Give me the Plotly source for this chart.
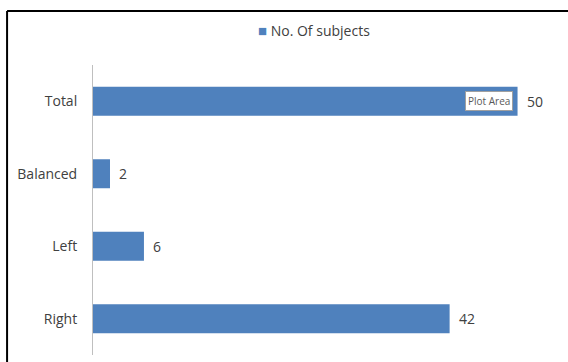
import plotly.graph_objects as go

categories = ["Right", "Left", "Balanced", "Total"]
values = [42, 6, 2, 50]
series_name = "No. Of subjects"
bar_color = "#4F81BD"

fig = go.Figure()
fig.add_trace(go.Bar(
    y=categories, x=values, orientation="h", name=series_name,
    marker=dict(color=bar_color, line=dict(width=0)),
    showlegend=False,
))

for c, v in zip(categories, values):
    fig.add_annotation(x=v, y=c, text=str(v), showarrow=False, xanchor="left",
                       xshift=7, font=dict(size=14, color="#404040"))

# legend drawn as a compact key
fig.add_annotation(xref="paper", yref="paper", x=0.473, y=1.12, xanchor="center",
                   yanchor="middle", showarrow=False,
                   text=f"<span style='color:{bar_color};font-size:15px'>■</span> {series_name}",
                   font=dict(size=14, color="#404040"))

fig.add_annotation(x=46.6, y="Total", text="Plot Area", showarrow=False,
                   font=dict(size=10, color="#595959"), bgcolor="white",
                   bordercolor="#a0a0a0", borderwidth=1, borderpad=2)

# frame: top and left edges only are visible in the cropped reference
fig.add_shape(type="line", xref="paper", yref="paper",
              x0=-0.184, x1=1.1, y0=1.186, y1=1.186,
              line=dict(color="black", width=2))
fig.add_shape(type="line", xref="paper", yref="paper",
              x0=-0.184, x1=-0.184, y0=-0.1, y1=1.186,
              line=dict(color="black", width=2))

fig.update_layout(
    width=568, height=362,
    margin=dict(l=93, r=8, t=65, b=7),
    paper_bgcolor="white", plot_bgcolor="white",
    font=dict(family="Open Sans, sans-serif", size=14, color="#404040"),
    bargap=0.6,
    xaxis=dict(range=[0, 55], visible=False, showgrid=False, zeroline=False),
    yaxis=dict(categoryorder="array", categoryarray=categories, showline=True,
               linecolor="#BFBFBF", linewidth=1, showgrid=False, ticks="",
               ticklabelstandoff=12),
)

fig.write_html("out.html", config={"displayModeBar": False},
               post_script="document.body.style.margin='0';")
